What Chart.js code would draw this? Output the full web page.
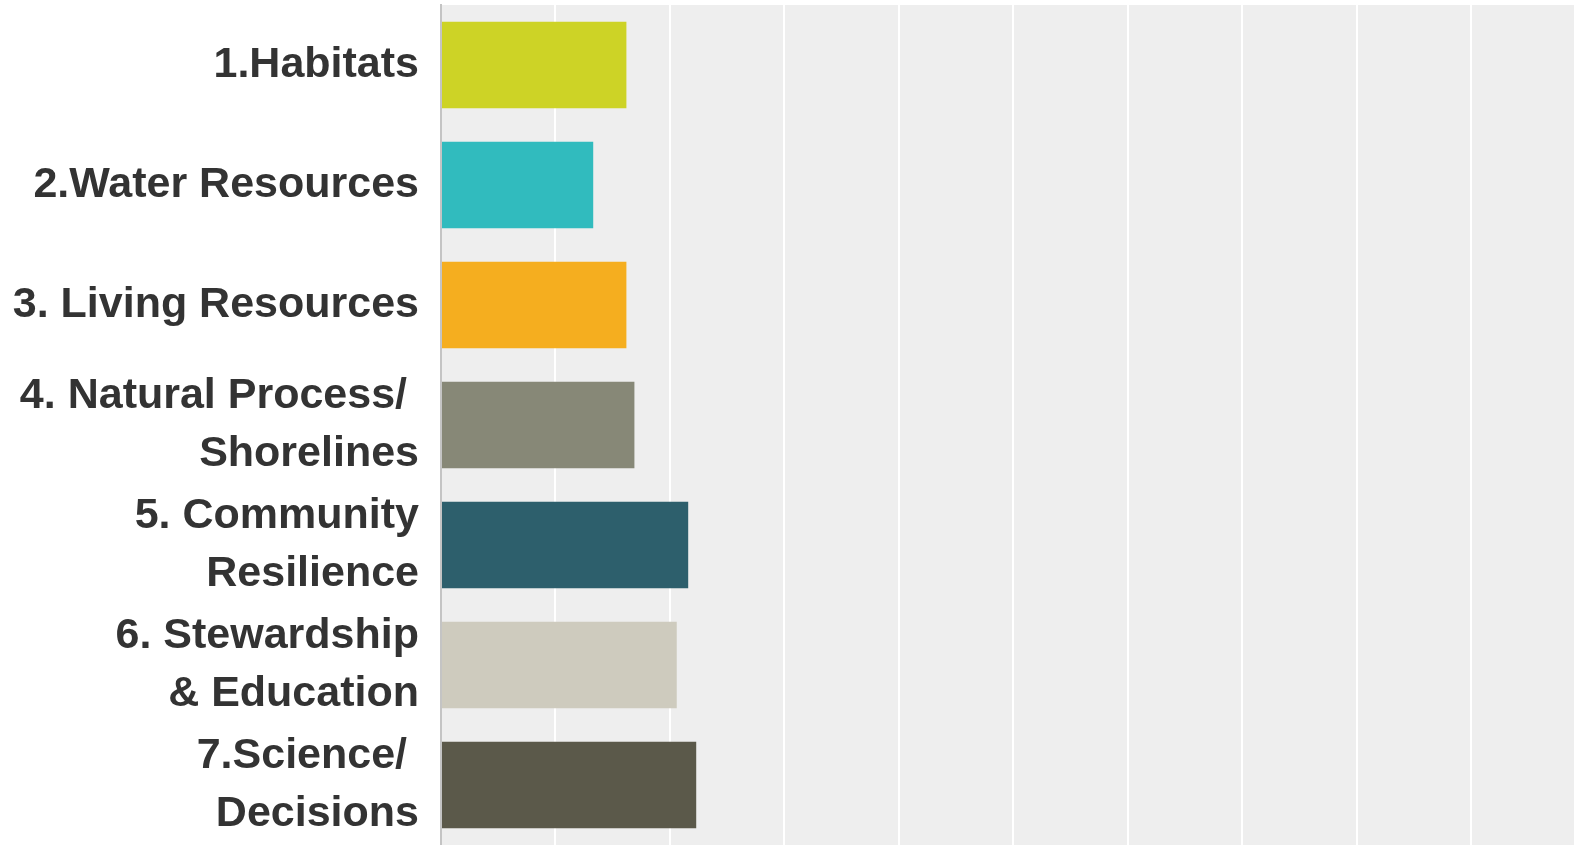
<!DOCTYPE html>
<html>
<head>
<meta charset="utf-8">
<script src="https://cdn.jsdelivr.net/npm/chart.js@4"></script>
<style>
  html, body { margin: 0; padding: 0; background: #ffffff; }
  #wrap { width: 1574px; height: 845px; position: relative; }
</style>
</head>
<body>
<div id="wrap"><canvas id="grafico"></canvas></div>
<script>
const categorias = [
  "1.Habitats",
  "2.Water Resources",
  "3. Living Resources",
  ["4. Natural Process/ ", "Shorelines"],
  ["5. Community", "Resilience"],
  ["6. Stewardship", "& Education"],
  ["7.Science/ ", "Decisions"]
];
const valores = [1.62, 1.33, 1.62, 1.69, 2.16, 2.06, 2.23];
const cores = ["#cdd326", "#31bbbe", "#f5ae1f", "#878877", "#2d5f6c", "#cecbbe", "#5b594a"];
const eixoMax = 9.9;

// fundo cinza da area do grafico
const fundoArea = {
  id: "fundoArea",
  beforeDraw(chart) {
    const { ctx, chartArea } = chart;
    ctx.save();
    ctx.fillStyle = "#eeeeee";
    ctx.fillRect(chartArea.left, chartArea.top, chartArea.right - chartArea.left, chartArea.bottom - chartArea.top);
    ctx.restore();
  }
};

new Chart(document.getElementById("grafico"), {
  type: "bar",
  data: {
    labels: categorias,
    datasets: [{
      data: valores,
      backgroundColor: cores,
      borderWidth: 0,
      barPercentage: 0.72,
      categoryPercentage: 1
    }]
  },
  options: {
    indexAxis: "y",
    responsive: true,
    maintainAspectRatio: false,
    animation: false,
    layout: { padding: { top: 5, left: 0, right: 0, bottom: 0 } },
    plugins: {
      legend: { display: false },
      tooltip: { enabled: false }
    },
    scales: {
      x: {
        min: 0,
        max: eixoMax,
        afterBuildTicks(scale) {
          scale.ticks = scale.ticks.filter(t => Number.isInteger(t.value));
        },
        afterFit(scale) {
          scale.height = 0;
          scale.paddingLeft = 0;
          scale.paddingRight = 0;
        },
        ticks: { display: false, stepSize: 1 },
        grid: {
          drawTicks: false,
          lineWidth: 2,
          color: ctx => (ctx.tick && ctx.tick.value === 0) ? "rgba(0,0,0,0)" : "#ffffff"
        },
        border: { display: false }
      },
      y: {
        afterFit(scale) {
          scale.width = 441;
          // os rotulos de varias linhas nao devem encolher a area
          scale.paddingTop = 0;
          scale.paddingBottom = 0;
        },
        grid: { display: false, drawTicks: false },
        border: { display: true, color: "#c4c4c4", width: 2 },
        ticks: {
          padding: 22,
          color: "#333333",
          font: { family: "'Liberation Sans', Arial, sans-serif", size: 43, weight: "bold", lineHeight: 1.35 }
        }
      }
    }
  },
  plugins: [fundoArea]
});
</script>
</body>
</html>
